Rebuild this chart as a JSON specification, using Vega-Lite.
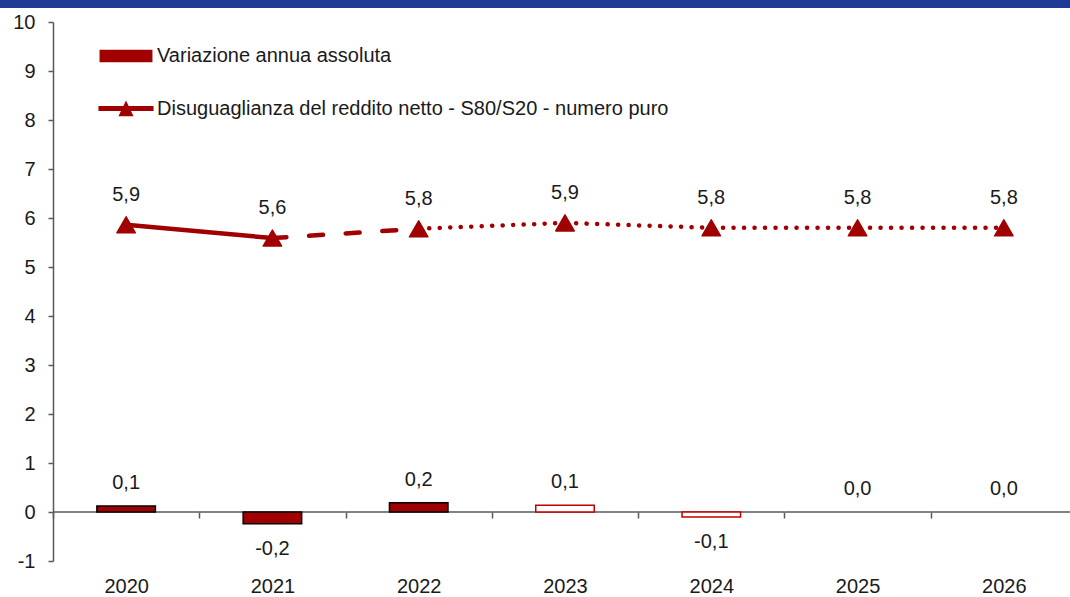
{
  "$schema": "https://vega.github.io/schema/vega-lite/v6.json",
  "padding": 0,
  "background": "white",
  "config": {
    "view": {"stroke": null},
    "concat": {"spacing": 4},
    "font": "Liberation Sans",
    "locale": {"number": {"decimal": ",", "thousands": ".", "grouping": [3], "currency": ["", " €"], "minus": "-"}}
  },
  "datasets": {
    "dati": [
      {"anno": "2020", "variazione": 0.12, "disuguaglianza": 5.86, "fase": "consuntivo"},
      {"anno": "2021", "variazione": -0.24, "disuguaglianza": 5.59, "fase": "consuntivo"},
      {"anno": "2022", "variazione": 0.19, "disuguaglianza": 5.78, "fase": "consuntivo"},
      {"anno": "2023", "variazione": 0.14, "disuguaglianza": 5.9, "fase": "previsione"},
      {"anno": "2024", "variazione": -0.1, "disuguaglianza": 5.8, "fase": "previsione"},
      {"anno": "2025", "variazione": 0.0, "disuguaglianza": 5.8, "fase": "previsione"},
      {"anno": "2026", "variazione": 0.0, "disuguaglianza": 5.8, "fase": "previsione"}
    ]
  },
  "columns": 1,
  "align": "none",
  "concat": [
    {
      "width": 1080,
      "height": 8,
      "data": {"values": [{"banda": "intestazione"}]},
      "mark": {"type": "rect", "color": "#1f3a93"},
      "encoding": {}
    },
    {
      "width": 1077,
      "height": 539,
      "data": {"name": "dati"},
      "encoding": {
        "x": {
          "field": "anno",
          "type": "ordinal",
          "scale": {"paddingInner": 0, "paddingOuter": 0.1811, "align": 1},
          "axis": {
            "orient": "bottom",
            "offset": -49,
            "title": null,
            "labelAngle": 0,
            "domain": false,
            "tickColor": "#595959",
            "tickWidth": 1.5,
            "tickSize": 6,
            "tickBand": "extent",
            "labelPadding": 58,
            "labelFontSize": 20,
            "labelColor": "#1a1a1a",
            "grid": false
          }
        }
      },
      "layer": [
        {
          "mark": {"type": "tick", "orient": "horizontal", "size": 146.3, "thickness": 1.5, "color": "#595959", "opacity": 1},
          "encoding": {
            "y": {
              "datum": 0,
              "type": "quantitative",
              "scale": {"domain": [-1, 10], "nice": false, "zero": false},
              "axis": {
                "title": null,
                "offset": -53,
                "values": [-1, 0, 1, 2, 3, 4, 5, 6, 7, 8, 9, 10],
                "format": "d",
                "domainColor": "#595959",
                "domainWidth": 1.5,
                "tickColor": "#595959",
                "tickWidth": 1.5,
                "tickSize": 5,
                "labelPadding": 13,
                "labelFontSize": 20,
                "labelColor": "#1a1a1a",
                "grid": false
              }
            }
          }
        },
        {
          "transform": [{"filter": "datum.variazione != 0"}],
          "mark": {"type": "bar", "width": {"band": 0.4}, "strokeWidth": 1.5},
          "encoding": {
            "y": {"field": "variazione", "type": "quantitative"},
            "fill": {"field": "fase", "type": "nominal", "scale": {"domain": ["consuntivo", "previsione"], "range": ["#a00000", "#ffffff"]}, "legend": null},
            "stroke": {"field": "fase", "type": "nominal", "scale": {"domain": ["consuntivo", "previsione"], "range": ["#000000", "#c00000"]}, "legend": null}
          }
        },
        {
          "transform": [{"filter": "datum.variazione >= 0"}],
          "mark": {"type": "text", "dy": -23, "fontSize": 20, "color": "#1a1a1a"},
          "encoding": {
            "y": {"field": "variazione", "type": "quantitative"},
            "text": {"field": "variazione", "type": "quantitative", "format": ",.1f"}
          }
        },
        {
          "transform": [{"filter": "datum.variazione < 0"}],
          "mark": {"type": "text", "dy": 25, "fontSize": 20, "color": "#1a1a1a"},
          "encoding": {
            "y": {"field": "variazione", "type": "quantitative"},
            "text": {"field": "variazione", "type": "quantitative", "format": ",.1f"}
          }
        },
        {
          "transform": [{"filter": "toNumber(datum.anno) <= 2021"}],
          "mark": {"type": "line", "strokeWidth": 4.5, "strokeCap": "round"},
          "encoding": {
            "y": {"field": "disuguaglianza", "type": "quantitative"},
            "color": {
              "datum": "Disuguaglianza del reddito netto - S80/S20 - numero puro",
              "type": "nominal",
              "scale": {"domain": ["Variazione annua assoluta", "Disuguaglianza del reddito netto - S80/S20 - numero puro"], "range": ["#a00000", "#a00000"]},
              "legend": {
                "orient": "none",
                "legendX": 99,
                "legendY": 29,
                "title": null,
                "direction": "vertical",
                "symbolSize": 2916,
                "labelFontSize": 20,
                "labelFont": "Liberation Sans",
                "labelColor": "#1a1a1a",
                "labelOffset": 4,
                "labelLimit": 0,
                "rowPadding": 15.6,
                "encode": {
                  "symbols": {
                    "update": {
                      "shape": [
                        {"test": "datum.value === 'Variazione annua assoluta'", "value": "M-0.98,-0.235H0.98V0.235H-0.98Z"},
                        {"value": "M-1.02,-0.093H1.02V0.093H-1.02Z M-0.28,0.285L0,-0.3L0.28,0.285Z"}
                      ],
                      "fill": {"value": "#a00000"},
                      "strokeWidth": {"value": 0},
                      "opacity": {"value": 1},
                      "size": {"value": 2916}
                    }
                  }
                }
              }
            }
          }
        },
        {
          "transform": [{"filter": "toNumber(datum.anno) >= 2021 && toNumber(datum.anno) <= 2022"}],
          "mark": {"type": "line", "strokeWidth": 4.5, "strokeCap": "round", "strokeDash": [14, 22.7]},
          "encoding": {
            "y": {"field": "disuguaglianza", "type": "quantitative"},
            "color": {"datum": "Disuguaglianza del reddito netto - S80/S20 - numero puro", "type": "nominal"}
          }
        },
        {
          "transform": [{"filter": "toNumber(datum.anno) >= 2022"}],
          "mark": {"type": "line", "strokeWidth": 4.5, "strokeCap": "round", "strokeDash": [0.1, 10.4]},
          "encoding": {
            "y": {"field": "disuguaglianza", "type": "quantitative"},
            "color": {"datum": "Disuguaglianza del reddito netto - S80/S20 - numero puro", "type": "nominal"}
          }
        },
        {
          "mark": {"type": "point", "shape": "triangle-up", "size": 340, "fill": "#a00000", "stroke": "#a00000", "strokeWidth": 1.5, "strokeJoin": "round", "opacity": 1, "filled": true},
          "encoding": {
            "y": {"field": "disuguaglianza", "type": "quantitative"}
          }
        },
        {
          "mark": {"type": "text", "dy": -30, "fontSize": 20, "color": "#1a1a1a"},
          "encoding": {
            "y": {"field": "disuguaglianza", "type": "quantitative"},
            "text": {"field": "disuguaglianza", "type": "quantitative", "format": ",.1f"}
          }
        }
      ]
    }
  ]
}
